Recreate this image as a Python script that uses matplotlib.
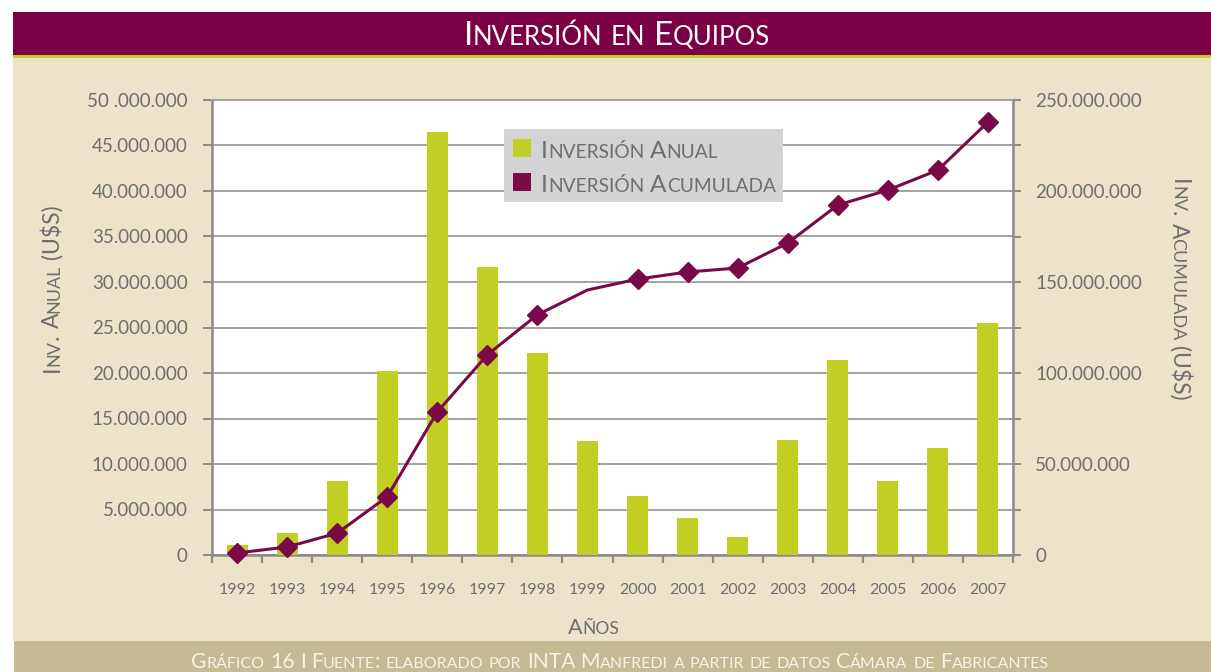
import matplotlib
matplotlib.use("Agg")
import matplotlib.pyplot as plt
from matplotlib.patches import Rectangle
import numpy as np

# ---------------- data ----------------
years = ["1992", "1993", "1994", "1995", "1996", "1997", "1998", "1999",
         "2000", "2001", "2002", "2003", "2004", "2005", "2006", "2007"]
inv_anual = [1.1e6, 2.4e6, 8.1e6, 20.2e6, 46.5e6, 31.6e6, 22.2e6, 12.5e6,
             6.5e6, 4.1e6, 2.0e6, 12.6e6, 21.4e6, 8.1e6, 11.8e6, 25.5e6]
inv_acum = [1.1e6, 4.4e6, 12.0e6, 32.0e6, 78.6e6, 110.0e6, 132.0e6, 145.6e6,
            151.6e6, 155.5e6, 157.7e6, 171.4e6, 192.3e6, 200.5e6, 211.5e6, 237.9e6]
left_ticks = [0, 5e6, 10e6, 15e6, 20e6, 25e6, 30e6, 35e6, 40e6, 45e6, 50e6]
left_labels = ["0", "5.000.000", "10.000.000", "15.000.000", "20.000.000",
               "25.000.000", "30.000.000", "35.000.000", "40.000.000",
               "45.000.000", "50 .000.000"]
right_ticks = [0, 50e6, 100e6, 150e6, 200e6, 250e6]
right_labels = ["0", "50.000.000", "100.000.000", "150.000.000",
                "200.000.000", "250.000.000"]
title = "Inversión en Equipos"
ylabel_left = "Inv. Anual (U$S)"
ylabel_right = "Inv. Acumulada (U$S)"
xlabel = "Años"
legend_labels = ["Inversión Anual", "Inversión Acumulada"]
footer = "Gráfico 16 I Fuente: elaborado por INTA Manfredi a partir de datos Cámara de Fabricantes"

# ---------------- style ----------------
W, H = 1211, 672
MAROON = "#7B0046"
LINE = "#7A0A47"
GREEN = "#C0CF22"
BEIGE = "#EDE3C8"
FOOT = "#C4BA94"
TXT = "#6D6E70"
GRID = "#A3A3A3"
SPINE = "#8A8A8A"
FONT = ["Lato", "DejaVu Sans"]

fig = plt.figure(figsize=(W / 100, H / 100), dpi=100)
fig.patch.set_facecolor("white")


def fx(x):
    return x / W


def fy(y):
    return 1 - y / H


def rect(x0, y0, x1, y1, color, z=-10):
    fig.patches.append(Rectangle((fx(x0), fy(y1)), fx(x1) - fx(x0), fy(y0) - fy(y1),
                                 transform=fig.transFigure, facecolor=color,
                                 edgecolor="none", zorder=z))


# backgrounds
rect(13, 12, W, 641, BEIGE, -10)
rect(13, 12, W, 55, MAROON, -9)
rect(13, 55, W, 58, GREEN, -9)
rect(14, 641, W, H, FOOT, -9)

renderer = fig.canvas.get_renderer()


def text_width(s, size, family):
    t = fig.text(0, 0, s, fontsize=size, family=family)
    w = t.get_window_extent(renderer).width
    t.remove()
    return w


def smallcaps(s, x, y, big, small, color, family, rotation=0, ha="center", z=20):
    runs = []
    for ch in s:
        if ch == " ":
            runs.append((" ", None))
            continue
        if ch.islower():
            t, sz = ch.upper(), small
        else:
            t, sz = ch, big
        if runs and runs[-1][1] == sz:
            runs[-1] = (runs[-1][0] + t, sz)
        else:
            runs.append((t, sz))
    sp = text_width("x x", big, family) - text_width("xx", big, family)
    widths = [sp if sz is None else text_width(t, sz, family) for t, sz in runs]
    total = sum(widths)
    off = {"center": -total / 2, "left": 0, "right": -total}[ha]
    d = {0: (1, 0), 90: (0, 1), 270: (0, -1)}[rotation]
    X, Y = x, H - y
    for (t, sz), w in zip(runs, widths):
        if sz is not None:
            px = X + d[0] * off
            py = Y + d[1] * off
            fig.text(px / W, py / H, t, fontsize=sz, family=family, color=color,
                     rotation=rotation, rotation_mode="anchor",
                     ha="left", va="baseline", zorder=z)
        off += w


# ---------------- axes ----------------
ax = fig.add_axes([fx(212), fy(555), fx(1013) - fx(212), fy(100) - fy(555)])
ax.set_facecolor("white")
x = np.arange(len(years))
ax.bar(x, inv_anual, width=0.42, color=GREEN, zorder=3)
ax.set_xlim(-0.5, len(years) - 0.5)
ax.set_ylim(0, 50e6)
ax.set_yticks(left_ticks)
ax.set_yticklabels(left_labels)
ax.yaxis.grid(True, color=GRID, linewidth=1.4, zorder=1)
ax.set_axisbelow(True)
ax.set_xticks(x)
ax.set_xticklabels(years)
ax.set_xticks(np.arange(-0.5, len(years)), minor=True)
ax.tick_params(axis="x", which="major", length=0, pad=20, labelsize=11.5,
               labelcolor=TXT)
ax.tick_params(axis="x", which="minor", length=6, width=1.6, color=SPINE,
               direction="out")
ax.tick_params(axis="y", length=6.5, width=1.4, color=SPINE, direction="out",
               pad=11, labelsize=13.5, labelcolor=TXT)
for lab in ax.get_xticklabels() + ax.get_yticklabels():
    lab.set_family(FONT)
for s in ["left", "bottom"]:
    ax.spines[s].set_color(SPINE)
    ax.spines[s].set_linewidth(1.8)
ax.spines["top"].set_color(GRID)
ax.spines["top"].set_linewidth(1.4)
ax.spines["right"].set_visible(False)

ax2 = ax.twinx()
ax2.set_ylim(0, 250e6)
ax2.plot(x, inv_acum, color=LINE, linewidth=2.2, marker="D", markersize=10,
         markevery=[i for i in range(len(years)) if i != 7], zorder=4,
         clip_on=False)
r_ticks = np.arange(0, 250e6 + 1, 25e6)
ax2.set_yticks(r_ticks)
ax2.set_yticklabels([right_labels[right_ticks.index(v)] if v in right_ticks else ""
                     for v in r_ticks])
ax2.tick_params(axis="y", length=5.5, width=1.4, color=SPINE, direction="out",
                pad=10.5, labelsize=13.5, labelcolor=TXT)
for lab in ax2.get_yticklabels():
    lab.set_family(FONT)
for s in ["left", "bottom", "top"]:
    ax2.spines[s].set_visible(False)
ax2.spines["right"].set_color(SPINE)
ax2.spines["right"].set_linewidth(1.8)

# ---------------- texts ----------------
smallcaps(title, 617, 45, 24, 18.5, "white", FONT)
smallcaps(ylabel_left, 59, 288, 16.5, 13, TXT, FONT, rotation=90)
smallcaps(ylabel_right, 1172, 290, 16.5, 13, TXT, FONT, rotation=270)
smallcaps(xlabel, 594, 634, 15.5, 12.5, TXT, FONT)
smallcaps(footer, 620, 668, 15.2, 11.5, "#F7F2E4", FONT)

# legend
rect(504, 129, 783, 202, "#D3D3D5", 15)
rect(513, 139, 531, 157, GREEN, 16)
rect(513, 173, 531, 191, LINE, 16)
smallcaps(legend_labels[0], 541, 158, 17.5, 13.8, TXT, FONT, ha="left")
smallcaps(legend_labels[1], 541, 192, 17.5, 13.8, TXT, FONT, ha="left")

fig.savefig("out.png", dpi=100)
